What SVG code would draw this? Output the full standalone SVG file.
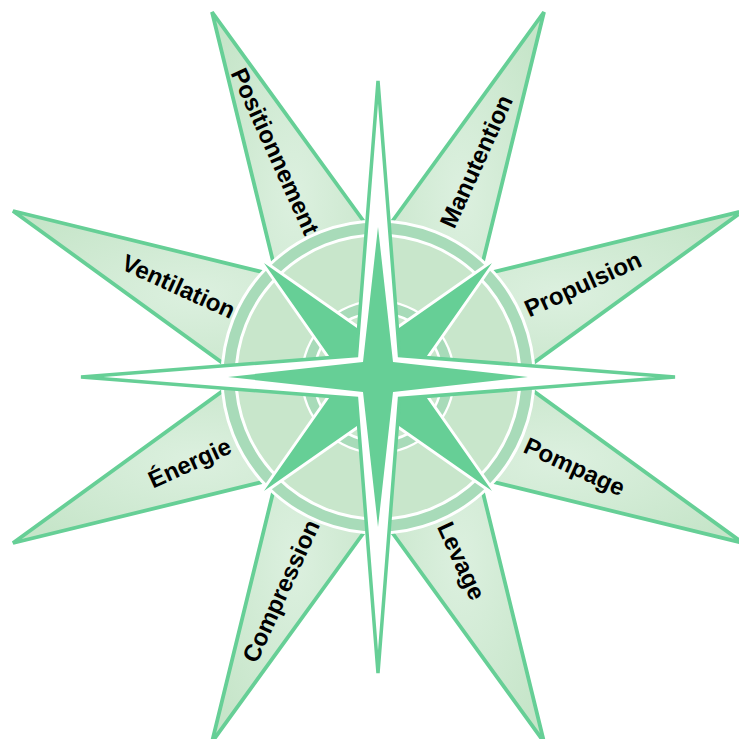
<svg xmlns="http://www.w3.org/2000/svg" width="739" height="739" viewBox="0 0 739 739">
<style>
.petal{fill:url(#pg);stroke:#66cf96;stroke-width:3.8;stroke-linejoin:miter}
.lbl{font-family:"Liberation Sans",Arial,sans-serif;font-weight:bold;font-size:24px;fill:#000;text-anchor:middle;dominant-baseline:central}
</style>
<defs>
<radialGradient id="pg" cx="0.5" cy="0.5" r="0.6">
<stop offset="0" stop-color="#dcf0df"/>
<stop offset="1" stop-color="#c6e5c9"/>
</radialGradient>
</defs>
<rect width="739" height="739" fill="#fff"/>
<g transform="translate(378,377)">
<g id="petal-positionnement"><polygon class="petal" points="-166,-365 0,-136 0,0 -101.5,-101.5"/></g>
<g id="petal-manutention"><polygon class="petal" points="166,-365 0,-136 0,0 101.5,-101.5"/></g>
<g id="petal-propulsion"><polygon class="petal" points="365,-166 136,0 0,0 101.5,-101.5"/></g>
<g id="petal-pompage"><polygon class="petal" points="365,166 136,0 0,0 101.5,101.5"/></g>
<g id="petal-levage"><polygon class="petal" points="166,365 0,136 0,0 101.5,101.5"/></g>
<g id="petal-compression"><polygon class="petal" points="-166,365 0,136 0,0 -101.5,101.5"/></g>
<g id="petal-energie"><polygon class="petal" points="-365,166 -136,0 0,0 -101.5,101.5"/></g>
<g id="petal-ventilation"><polygon class="petal" points="-365,-166 -136,0 0,0 -101.5,-101.5"/></g>
<g id="rings">
<circle r="156" fill="#a8dbb9" stroke="#fff" stroke-width="3"/>
<circle r="142" fill="#c8e6cb" stroke="#fff" stroke-width="3"/>
<circle r="76" fill="#a8dbb9" stroke="#fff" stroke-width="2.5"/>
<circle r="64" fill="#c8e6cb" stroke="#fff" stroke-width="2.5"/>
</g>
<g id="diagonal-star"><polygon points="-120,-120 0,-36 120,-120 36,0 120,120 0,36 -120,120 -36,0" fill="#66cf96" stroke="#fff" stroke-width="3" stroke-linejoin="miter" stroke-miterlimit="4"/></g>
<g id="main-star">
<polygon points="0,-296 21.5,-21.5 297,0 21.5,21.5 0,296 -21.5,21.5 -297,0 -21.5,-21.5" fill="#fff" stroke="#66cf96" stroke-width="3.5" stroke-linejoin="miter" stroke-miterlimit="4"/>
<polygon points="0,-150 15,-15 150,0 15,15 0,150 -15,15 -150,0 -15,-15" fill="#66cf96"/>
</g>
</g>
<g id="labels">
<text class="lbl" transform="translate(275.3,151.3) rotate(65.5)">Positionnement</text>
<text class="lbl" transform="translate(476.1,161.3) rotate(-65.5)">Manutention</text>
<text class="lbl" transform="translate(582.8,283.8) rotate(-24.5)">Propulsion</text>
<text class="lbl" transform="translate(574.6,466.4) rotate(24.5)">Pompage</text>
<text class="lbl" transform="translate(461.6,560.8) rotate(65.5)">Levage</text>
<text class="lbl" transform="translate(280.7,590.9) rotate(-65.5)">Compression</text>
<text class="lbl" transform="translate(189.6,462.7) rotate(-24.5)">Énergie</text>
<text class="lbl" transform="translate(178.7,286.3) rotate(24.5)">Ventilation</text>
</g>
</svg>
